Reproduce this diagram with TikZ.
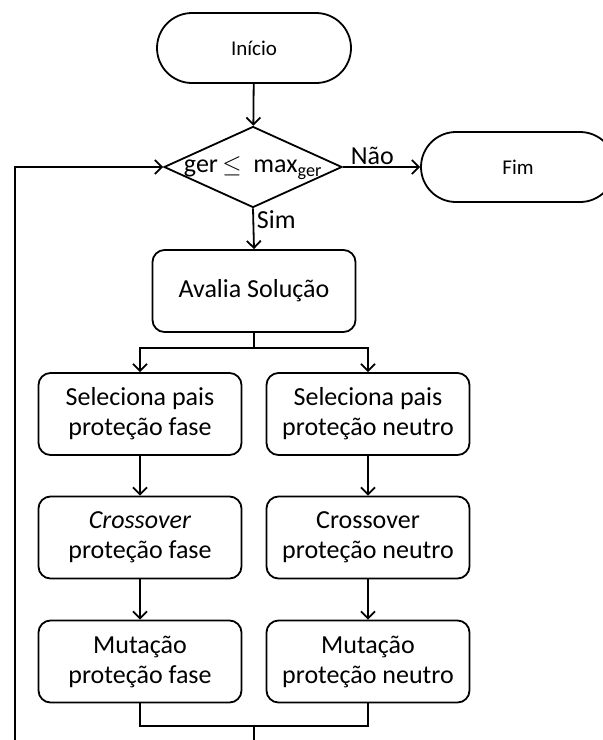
\documentclass[tikz,border=0pt]{standalone}
\usepackage{fontspec}
\setmainfont{Carlito}
\usetikzlibrary{shapes.geometric,shapes.misc,arrows.meta}
\begin{document}
\begin{tikzpicture}[x=1pt,y=-1pt, line width=1.8pt,
  >={Straight Barb[length=7pt,width=14pt]},
  box/.style={draw, rounded corners=12pt, minimum width=203pt, minimum height=82pt,
    align=center, inner sep=0pt, font=\fontsize{26}{30}\selectfont},
  term/.style={draw, rounded rectangle, minimum width=194pt, minimum height=70pt,
    inner sep=0pt, font=\fontsize{21}{24}\selectfont},
  lbl/.style={font=\fontsize{26}{30}\selectfont, inner sep=1pt}]
\clip (0,0) rectangle (603,740);
\useasboundingbox (0,0) rectangle (603,740);

\node[term] (ini) at (254,48) {Início};
\node[diamond, draw, minimum width=178pt, minimum height=81pt, inner sep=0pt] (dec) at (253,167) {};
\node[lbl] (dect) at (253,168) {ger\,\(\leq\)\ \ max\textsubscript{ger}};
\node[term] (fim) at (518,167) {Fim};
\node[box] (aval) at (254,291) {Avalia Solução};

\node[box] (s1) at (140,414) {Seleciona pais\\proteção fase};
\node[box] (s2) at (368,414) {Seleciona pais\\proteção neutro};
\node[box] (c1) at (140,537.5) {\textit{Crossover}\\proteção fase};
\node[box] (c2) at (368,537.5) {Crossover\\proteção neutro};
\node[box] (m1) at (140,661.5) {Mutação\\proteção fase};
\node[box] (m2) at (368,661.5) {Mutação\\proteção neutro};

\coordinate (split) at (254,348);
\coordinate (mg) at (254,726);
\coordinate (lb) at (254,770);
\coordinate (lc) at (15,770);

\draw[->] (ini) -- (dec);
\draw[->] (dec.east) -- node[lbl, pos=0, anchor=south west, xshift=6pt] (nao) {Não} (fim.west);
\draw[->] (dec.south) -- node[lbl, pos=0, anchor=north west, xshift=2pt] (sim) {Sim} (aval.north);
\draw (aval.south) -- (split);
\draw[->] (split) -| (s1.north);
\draw[->] (split) -| (s2.north);
\draw[->] (s1) -- (c1);
\draw[->] (s2) -- (c2);
\draw[->] (c1) -- (m1);
\draw[->] (c2) -- (m2);
\draw (m1.south) |- (mg);
\draw (m2.south) |- (mg);
\draw[->] (mg) -- (lb) -- (lc) |- (dec.west);
\end{tikzpicture}
\end{document}
